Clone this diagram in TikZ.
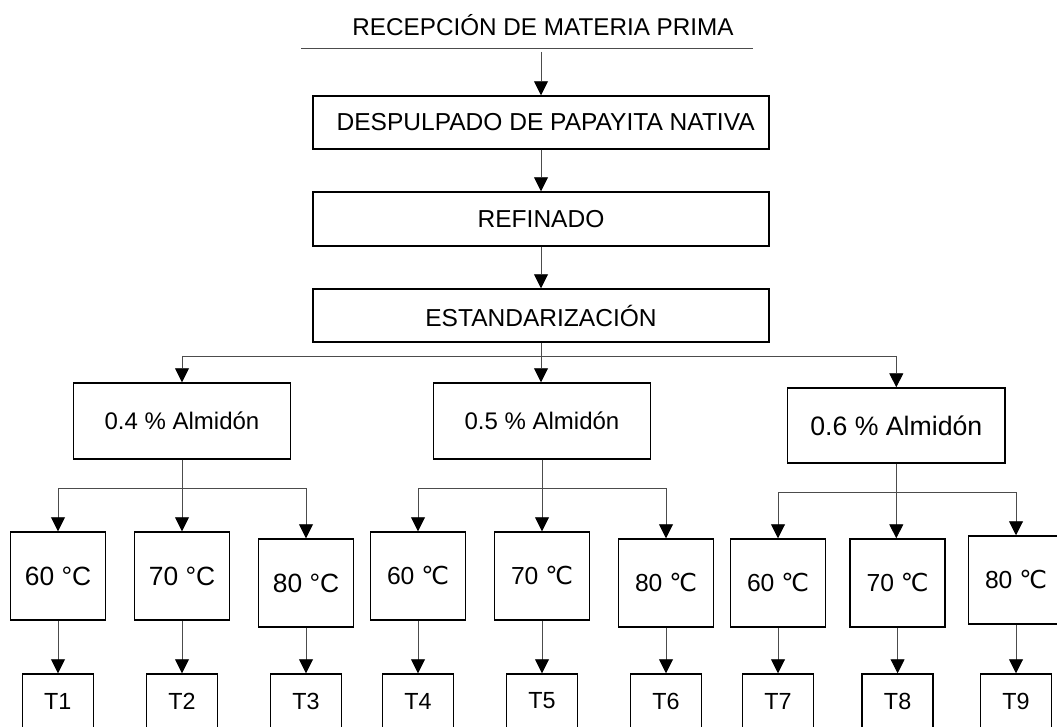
\documentclass[tikz,border=0pt]{standalone}
\usepackage{fontspec}
\setmainfont{Liberation Sans}
\newfontfamily\dvfont{DejaVu Sans}
\usetikzlibrary{arrows.meta}
\newcommand{\mydegc}{{\dvfont ℃}}
\begin{document}
\begin{tikzpicture}[x=0.75pt,y=-0.75pt,
  boxnode/.style={draw=black,line width=1.1pt,inner sep=0pt,fill=white,align=center},
  stepbox/.style={boxnode,minimum width=342pt,font=\fontsize{18.4}{20}\selectfont},
  almbox/.style={boxnode,minimum width=162.5pt,minimum height=57pt,font=\fontsize{18}{20}\selectfont},
  tempbox/.style={boxnode,minimum width=71.25pt,minimum height=66pt,font=\fontsize{18.5}{20}\selectfont},
  tbox/.style={boxnode,minimum width=53.25pt,minimum height=40.5pt,font=\fontsize{17.5}{19}\selectfont},
  plainline/.style={draw=black!70,line width=0.7pt},
  conn/.style={plainline,-{Triangle[width=10.5pt,length=10.5pt,color=black,fill=black]}},
]
\useasboundingbox (0,0) rectangle (1057,727);
\fill[white] (0,0) rectangle (1057,727);
\clip (0,0) rectangle (1057,727);

% top
\node[font=\fontsize{18.2}{20}\selectfont,inner sep=0pt] (recep) at (543,25) {RECEPCIÓN DE MATERIA PRIMA};
\coordinate (rl) at (301,48);
\coordinate (rr) at (753,48);
\coordinate (r0) at (541,52);
\draw[plainline] (rl) -- (rr);

\node[stepbox,minimum height=39.75pt] (desp) at (541,122.5) {\hspace*{7pt}DESPULPADO DE PAPAYITA NATIVA};
\node[stepbox,minimum height=40.5pt] (ref) at (541,219) {REFINADO};
\node[stepbox,minimum height=39.75pt] (est) at (541,315.5) {ESTANDARIZACIÓN};

\draw[conn] (r0) -- (desp.north);
\draw[conn] (desp) -- (ref);
\draw[conn] (ref) -- (est);

% starch level
\node[almbox] (a4) at (182,421) {0.4 \% Almidón};
\node[almbox] (a5) at (542,421) {0.5 \% Almidón};
\node[almbox,minimum width=163pt,minimum height=56.25pt,font=\fontsize{20}{22}\selectfont] (a6) at (896.3,425.5) {0.6 \% Almidón};

\coordinate (j0) at (541,356);
\draw[conn] (est.south) -- (est.south |- a5.north);
\draw[plainline] (j0 -| a4) -- (j0 -| a6);
\draw[conn] (j0 -| a4) -- (a4.north);
\draw[conn] (j0 -| a6) -- (a6.north);

% temperature level
\node[tempbox,font=\fontsize{19.8}{22}\selectfont] (c1) at (58,576) {60 °C};
\node[tempbox,font=\fontsize{19.8}{22}\selectfont] (c2) at (182,576) {70 °C};
\node[tempbox,font=\fontsize{19.8}{22}\selectfont] (c3) at (306,583) {80 °C};
\node[tempbox] (c4) at (418,576) {60 \mydegc};
\node[tempbox] (c5) at (542,576) {70 \mydegc};
\node[tempbox] (c6) at (666,583) {80 \mydegc};
\node[tempbox] (c7) at (778,583) {60 \mydegc};
\node[tempbox] (c8) at (897.6,583) {70 \mydegc};
\node[tempbox] (c9) at (1016,580) {80 \mydegc};

\coordinate (j1) at (182,488);
\coordinate (j2) at (542,488);
\coordinate (j3) at (896.3,492);

\draw[conn] (a4.south) -- (a4.south |- c2.north);
\draw[plainline] (j1 -| c1) -- (j1 -| c3);
\draw[conn] (j1 -| c1) -- (c1.north);
\draw[conn] (j1 -| c3) -- (c3.north);

\draw[conn] (a5.south) -- (a5.south |- c5.north);
\draw[plainline] (j2 -| c4) -- (j2 -| c6);
\draw[conn] (j2 -| c4) -- (c4.north);
\draw[conn] (j2 -| c6) -- (c6.north);

\draw[conn] (a6.south) -- (a6.south |- c8.north);
\draw[plainline] (j3 -| c7) -- (j3 -| c9);
\draw[conn] (j3 -| c7) -- (c7.north);
\draw[conn] (j3 -| c9) -- (c9.north);

% treatments
\node[tbox] (t1) at (57.8,701) {T1};
\node[tbox] (t2) at (182,701) {T2};
\node[tbox] (t3) at (306,701) {T3};
\node[tbox] (t4) at (418,701) {T4};
\node[tbox] (t5) at (542,701) {T5};
\node[tbox] (t6) at (666,701) {T6};
\node[tbox] (t7) at (778,701) {T7};
\node[tbox] (t8) at (897.6,701) {T8};
\node[tbox] (t9) at (1016,701) {T9};

\foreach \i in {1,...,9} {
  \draw[conn] (c\i.south) -- (c\i.south |- t\i.north);
}
\end{tikzpicture}
\end{document}
